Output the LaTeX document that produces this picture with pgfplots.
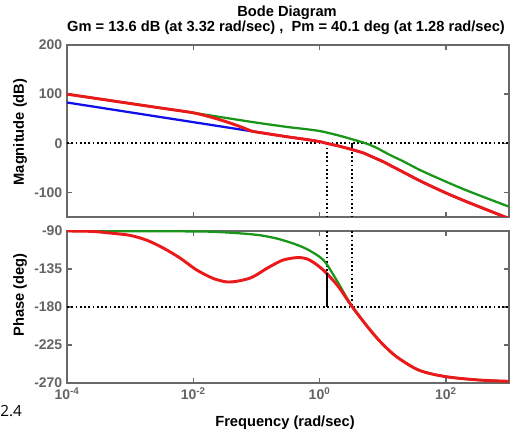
\documentclass[border=0pt]{standalone}
\usepackage{fontspec}
\setmainfont{Liberation Sans}
\newfontfamily\opensans{Open Sans}
\usepackage{pgfplots}
\pgfplotsset{compat=1.18}
\definecolor{mblue}{RGB}{15,15,235}
\definecolor{mgreen}{RGB}{25,150,25}
\definecolor{mred}{RGB}{235,25,25}
\definecolor{framegray}{RGB}{105,105,105}
\definecolor{labgray}{RGB}{100,100,100}
\pgfplotsset{
  bode/.style={
    scale only axis, width=331.5pt, xmin=-4, xmax=3,
    xtick={-4,-2,0,2},
    axis line style={framegray, line width=1.3pt},
    tick style={framegray, line width=1pt},
    major tick length=4pt,
    tick align=inside, xtick pos=both, ytick pos=both,
    tick label style={font=\bfseries\fontsize{10.5}{12}\selectfont, text=labgray},
    clip=true,
  },
  mdot/.style={black, line width=1.5pt, dash pattern=on 1.3pt off 1.9pt},
}
\begin{document}
\begin{tikzpicture}[x=0.75pt,y=0.75pt]
\useasboundingbox (0,0) rectangle (510,435);
% ---------- magnitude ----------
\begin{axis}[bode, at={(50.25pt,163.5pt)}, anchor=south west, height=129pt,
  ymin=-150, ymax=200, ytick={-100,0,100,200}, yticklabels={-100,0,100,200},
  xticklabels={}]
\addplot[mdot] coordinates {(-4,0) (3,0)};
\addplot[mdot] coordinates {(0.11,0) (0.11,-150)};
\addplot[mdot] coordinates {(0.52,0) (0.52,-150)};
\addplot[black, line width=1.4pt] coordinates {(0.52,0) (0.52,-13.6)};
\addplot[mblue, line width=1.7pt, smooth, tension=0.5] coordinates {
(-4,83) (-3,63) (-2,43) (-1.5,33) (-1,23) (-0.5,13) (-0.25,8.5) (0,3.5) (0.11,0)
(0.3,-5.5) (0.52,-13) (0.7,-20) (0.806,-26) (1.0,-37) (1.15,-47) (1.33,-59)
(1.6,-77) (2.0,-101) (2.37,-121) (2.9,-148) (3.0,-153)};
\addplot[mgreen, line width=1.7pt, smooth, tension=0.5] coordinates {
(-4,100) (-3,81) (-2,62) (-1.5,52) (-1,42) (-0.5,33) (-0.3,30) (0,25) (0.3,16)
(0.52,8) (0.73,0) (0.9,-9) (1.0,-16) (1.15,-26) (1.33,-37) (1.6,-55) (2.0,-78)
(2.37,-98) (3.0,-129)};
\addplot[mred, line width=2.2pt, smooth, tension=0.5] coordinates {
(-4,100) (-3.5,90.5) (-3,81) (-2.5,71.5) (-2.2,66) (-2,62) (-1.8,56) (-1.58,48)
(-1.3,36) (-1.1,26) (-1,23) (-0.5,13) (-0.25,8.5) (0,3.5) (0.11,0) (0.3,-5.5)
(0.52,-13) (0.7,-20) (0.806,-26) (1.0,-37) (1.15,-47) (1.33,-59) (1.6,-77)
(2.0,-101) (2.37,-121) (2.9,-148) (3.0,-153)};
\end{axis}
% ---------- phase ----------
\begin{axis}[bode, at={(50.25pt,39pt)}, anchor=south west, height=114pt,
  ymin=-270, ymax=-90, ytick={-270,-225,-180,-135,-90},
  yticklabels={-270,-225,-180,-135,-90},
  xticklabels={10\textsuperscript{-4},10\textsuperscript{-2},10\textsuperscript{0},10\textsuperscript{2}}]
\addplot[mdot] coordinates {(-4,-180) (3,-180)};
\addplot[mdot] coordinates {(0.11,-90) (0.11,-140)};
\addplot[mdot] coordinates {(0.52,-90) (0.52,-180)};
\addplot[mgreen, line width=1.7pt, smooth, tension=0.5] coordinates {
(-4,-90) (-2,-90.5) (-1.5,-91.6) (-1,-94.5) (-0.7,-98.5) (-0.42,-104.7)
(-0.2,-111.5) (0,-120.6) (0.11,-129) (0.3,-152) (0.52,-180) (0.806,-207.7)
(1.0,-224) (1.23,-239.5) (1.58,-255) (2.0,-262.5) (2.53,-266.5) (3.0,-268)};
\addplot[mred, line width=2.2pt, smooth, tension=0.5] coordinates {
(-4,-90) (-3.6,-90.5) (-3.27,-92.8) (-3,-95.2) (-2.74,-100.8) (-2.48,-110)
(-2.21,-122) (-1.95,-136) (-1.69,-146) (-1.5,-150) (-1.4,-150.3) (-1.27,-149)
(-1.11,-146) (-1,-142) (-0.84,-134.5) (-0.6,-125) (-0.42,-122) (-0.31,-121.5)
(-0.2,-123) (-0.1,-127) (0,-132.5) (0.11,-140) (0.3,-156) (0.52,-180)
(0.806,-207.7) (1.0,-224) (1.23,-239.5) (1.58,-255) (2.0,-262.5) (2.53,-266.5)
(3.0,-268)};
\addplot[black, line width=1.5pt] coordinates {(0.11,-140) (0.11,-180)};
\end{axis}
% ---------- texts ----------
\node[font=\bfseries\fontsize{11}{13}\selectfont] at (287,422) {Bode Diagram};
\node[font=\bfseries\fontsize{11}{13}\selectfont] at (286,407)
  {Gm = 13.6 dB (at 3.32 rad/sec) ,\ \ Pm = 40.1 deg (at 1.28 rad/sec)};
\node[font=\bfseries\fontsize{11}{13}\selectfont, rotate=90] at (20,303)
  {Magnitude (dB)};
\node[font=\bfseries\fontsize{11}{13}\selectfont, rotate=90] at (20,140)
  {Phase (deg)};
\node[font=\bfseries\fontsize{11}{13}\selectfont] at (285,12.5)
  {Frequency (rad/sec)};
\node[font=\opensans\fontsize{11.5}{13}\selectfont, anchor=west, inner sep=0pt]
  at (0,24) {2.4};
\end{tikzpicture}
\end{document}
